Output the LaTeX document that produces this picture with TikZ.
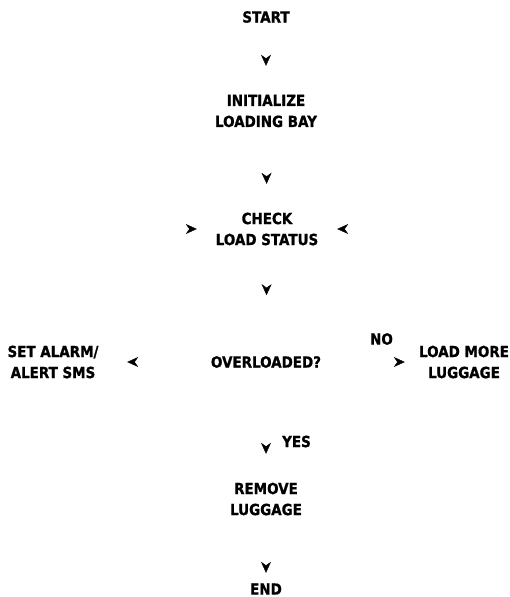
\documentclass[tikz,border=0pt]{standalone}
\usepackage{fontspec}
\setmainfont{DejaVu Sans}[FakeStretch=0.88, FakeBold=1]
\usetikzlibrary{arrows.meta,shapes.geometric}

\tikzset{
  txt/.style={font=\fontsize{15.3}{21}\selectfont\bfseries},
  base/.style={txt, draw=none, align=center, inner sep=0pt},
  terminal/.style={base, minimum width=100pt, minimum height=32pt},
  process/.style={base, minimum width=140pt, minimum height=90pt},
  decision/.style={base, diamond, minimum width=184pt, minimum height=134pt},
  flow/.style={draw=white, line width=0.4pt,
    -{Stealth[length=11pt, width=10pt, inset=3.5pt, color=black]}},
  lbl/.style={txt, inner sep=0pt}
}

\begin{document}
\begin{tikzpicture}[x=1pt, y=-1pt]
  \useasboundingbox (0,0) rectangle (510,597);

  \node[terminal] (start)  at (266,17)  {START};
  \node[process]  (init)   at (266,111) {INITIALIZE\\LOADING BAY};
  \node[process]  (check)  at (267,229) {CHECK\\LOAD STATUS};
  \node[decision] (dec)    at (266,362) {OVERLOADED?};
  \node[process, minimum width=148pt] (alarm) at (53,362)  {SET ALARM/\\ALERT SMS};
  \node[process, minimum width=118pt] (load)  at (464,362) {LOAD MORE\\LUGGAGE};
  \node[process]  (remove) at (266,499) {REMOVE\\LUGGAGE};
  \node[terminal] (end)    at (266,589) {END};

  \draw[flow] (start) -- (init);
  \draw[flow] (init) -- (check);
  \draw[flow] (check) -- (dec);
  \draw[flow] (dec) -- (alarm);
  \draw[flow] (dec) -- node[lbl, above=17pt] {NO} (load);
  \draw[flow] (dec) -- node[lbl, right=16pt] {YES} (remove);
  \draw[flow] (remove) -- (end);
  \draw[flow] (alarm) |- (check);
  \draw[flow] (load) |- (check);
\end{tikzpicture}
\end{document}
